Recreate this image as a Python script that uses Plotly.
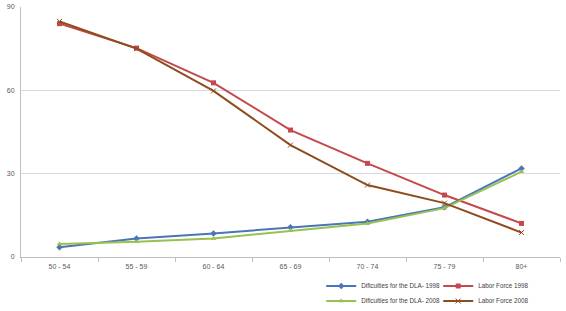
import plotly.graph_objects as go

categories = ["50 - 54", "55 - 59", "60 - 64", "65 - 69", "70 - 74", "75 - 79", "80+"]
dla_1998 = [3.5, 6.7, 8.5, 10.7, 12.7, 17.9, 31.9]
labor_1998 = [84.0, 75.2, 62.7, 45.7, 33.7, 22.3, 12.1]
dla_2008 = [4.7, 5.5, 6.7, 9.5, 12.1, 17.6, 30.7]
labor_2008 = [84.8, 75.0, 59.8, 40.3, 25.9, 19.4, 8.8]
y_ticks = [0, 30, 60, 90]

fig = go.Figure()
fig.add_trace(go.Scatter(x=categories, y=dla_1998, name="Dificuities for the DLA- 1998",
                         mode="lines+markers", line=dict(color="#4A76B8", width=2),
                         marker=dict(symbol="diamond", size=5, color="#4A76B8"),
                         legend="legend"))
fig.add_trace(go.Scatter(x=categories, y=labor_1998, name="Labor Force 1998",
                         mode="lines+markers", line=dict(color="#C4484C", width=2),
                         marker=dict(symbol="square", size=5, color="#C4484C"),
                         legend="legend2"))
fig.add_trace(go.Scatter(x=categories, y=dla_2008, name="Dificuities for the DLA- 2008",
                         mode="lines+markers", line=dict(color="#98C151", width=2),
                         marker=dict(symbol="triangle-up", size=5, color="#98C151"),
                         legend="legend3"))
fig.add_trace(go.Scatter(x=categories, y=labor_2008, name="Labor Force 2008",
                         mode="lines+markers", line=dict(color="#8E4B1C", width=2),
                         marker=dict(symbol="x-thin", size=5, color="#8E4B1C",
                                     line=dict(width=1, color="#8E4B1C")),
                         legend="legend4"))

leg_common = dict(orientation="v", yanchor="top", xanchor="left",
                  font=dict(size=6.3, color="#404040"), itemwidth=30,
                  bgcolor="rgba(0,0,0,0)", tracegroupgap=0)

fig.update_layout(
    width=566, height=311,
    margin=dict(l=21, r=6, t=7, b=54, autoexpand=False),
    paper_bgcolor="white", plot_bgcolor="white",
    font=dict(family="Liberation Sans, Arial, sans-serif", size=7, color="#595959"),
    showlegend=True,
    legend=dict(x=0.557, y=-0.058, **leg_common),
    legend2=dict(x=0.774, y=-0.058, **leg_common),
    legend3=dict(x=0.557, y=-0.118, **leg_common),
    legend4=dict(x=0.774, y=-0.118, **leg_common),
)
fig.update_xaxes(type="category", showgrid=False, showline=True, linecolor="#BFBFBF",
                 linewidth=1, ticks="outside", ticklen=4, tickcolor="#BFBFBF",
                 tickson="boundaries", tickfont=dict(size=7, color="#595959"),
                 ticklabelstandoff=3, range=[-0.5, 6.5])
fig.update_yaxes(range=[0, 90], tickvals=y_ticks, showgrid=True, gridcolor="#D9D9D9",
                 gridwidth=1, showline=True, linecolor="#BFBFBF", linewidth=1,
                 zeroline=False, tickfont=dict(size=7, color="#595959"), ticks="",
                 ticklabelstandoff=4)

fig.write_html("out.html", config={"displayModeBar": False},
               post_script="document.body.style.margin='0px';")
